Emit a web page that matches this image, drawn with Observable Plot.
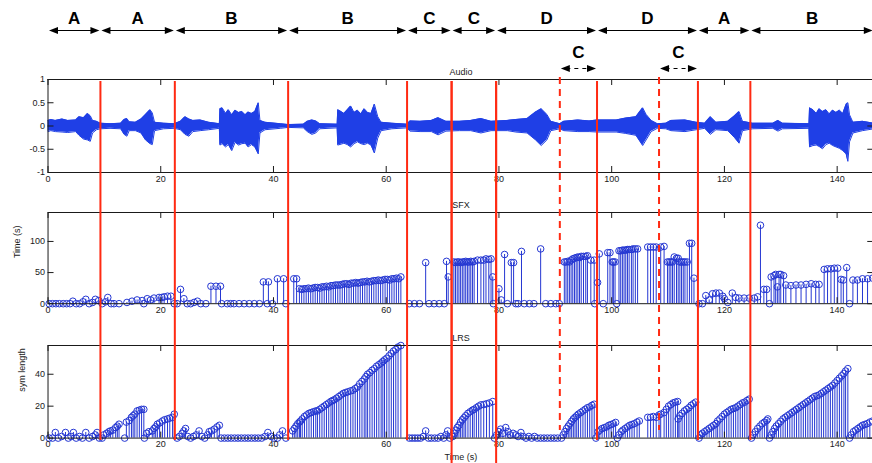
<!DOCTYPE html>
<html>
<head>
<meta charset="utf-8">
<script src="https://cdn.jsdelivr.net/npm/d3@7"></script>
<script src="https://cdn.jsdelivr.net/npm/@observablehq/plot@0.6"></script>
<style>
  html, body { margin: 0; padding: 0; background: white; }
  #chart { position: relative; width: 872px; height: 463px; overflow: hidden; }
  #chart svg { position: absolute; left: 0; }
</style>
</head>
<body>
<div id="chart"></div>
<script>
// ---------- data ----------
const xTicks = [0, 20, 40, 60, 80, 100, 120, 140];
const audioTicks = [-1, -0.5, 0, 0.5, 1];
const sfxTicks = [0, 50, 100];
const lrsTicks = [0, 20, 40];

const segLabels = ["A", "A", "B", "B", "C", "C", "D", "D", "A", "B"];
const segStart = [0, 9.3, 22.5, 42.6, 63.7, 71.6, 79.5, 97.4, 115.3, 124.6];
const segEnd = [9.3, 22.5, 42.6, 63.7, 71.6, 79.5, 97.4, 115.3, 124.6, 146.5];
const subLabels = ["C", "C"];
const subStart = [90.8, 108.4];
const subEnd = [97.4, 115.3];

const solidCuts = [9.3, 22.5, 42.6, 63.7, 71.6, 79.5, 97.4, 115.3, 124.6];
const extendedCuts = [71.6, 79.5];
const dashedCuts = [90.8, 108.4];

// audio envelope (time, upper, lower)
const audioT = [0,0.5,1.3,2.5,3.5,4.9,5.5,6.3,7.0,7.5,7.9,8.6,9.3,11,12.9,13.5,14.0,14.4,15.5,16.5,17.3,18.1,18.5,18.9,20.5,22.4,23.5,24.3,25,25.7,27,28.5,30.4,
  30.5,30.9,31.5,32.0,32.6,33.2,33.8,34.4,35.0,35.5,36.1,36.7,37.3,37.6,
  38.5,41.2,42.6,45.3,46,46.8,47.5,48.2,51.3,
  51.4,52.0,52.5,53.1,53.7,54.3,54.9,55.5,56.1,56.7,57.3,57.9,58.5,59.1,
  61,63.7,64.2,66,68,69.2,70.6,73,75,76.8,78.6,81.5,83,85,86.5,87.5,88.5,89.2,90.8,91.5,94,96,97.4,100.8,102.5,104.3,105.5,106.1,107,108.1,109.6,110.5,113,115,116.5,117.5,118.5,120.6,121.8,122.6,123.2,125,128.6,129.5,130.3,135,
  135.1,135.7,136.3,136.8,137.4,138.0,138.6,139.2,139.8,140.4,141.0,141.6,141.9,142.2,142.8,
  144.5,146.5];
const audioHi = [0.12,0.14,0.12,0.15,0.12,0.13,0.2,0.18,0.27,0.22,0.12,0.1,0.06,0.05,0.06,0.14,0.16,0.09,0.08,0.15,0.25,0.35,0.28,0.08,0.06,0.05,0.1,0.2,0.15,0.12,0.13,0.08,0.05,
  0.37,0.39,0.27,0.35,0.24,0.34,0.29,0.31,0.24,0.3,0.27,0.31,0.5,0.12,
  0.08,0.05,0.03,0.04,0.1,0.13,0.11,0.05,0.04,
  0.35,0.31,0.27,0.35,0.43,0.29,0.34,0.26,0.37,0.29,0.27,0.47,0.2,0.08,
  0.06,0.04,0.11,0.1,0.12,0.18,0.1,0.1,0.12,0.16,0.1,0.12,0.14,0.16,0.3,0.37,0.25,0.1,0.05,0.1,0.13,0.11,0.13,0.13,0.17,0.2,0.39,0.25,0.12,0.05,0.06,0.12,0.13,0.08,0.06,0.2,0.08,0.1,0.22,0.31,0.1,0.06,0.06,0.12,0.06,0.05,
  0.39,0.35,0.27,0.37,0.31,0.35,0.26,0.34,0.29,0.34,0.27,0.47,0.5,0.24,0.08,
  0.1,0.06];
const audioLo = [-0.12,-0.1,-0.12,-0.13,-0.14,-0.12,-0.2,-0.28,-0.3,-0.33,-0.15,-0.08,-0.06,-0.05,-0.06,-0.18,-0.22,-0.1,-0.1,-0.15,-0.3,-0.38,-0.4,-0.1,-0.06,-0.05,-0.08,-0.18,-0.22,-0.12,-0.1,-0.08,-0.05,
  -0.41,-0.38,-0.45,-0.4,-0.53,-0.35,-0.41,-0.38,-0.37,-0.45,-0.4,-0.45,-0.6,-0.15,
  -0.08,-0.05,-0.03,-0.04,-0.12,-0.18,-0.15,-0.06,-0.04,
  -0.41,-0.39,-0.37,-0.4,-0.45,-0.38,-0.34,-0.38,-0.4,-0.37,-0.41,-0.58,-0.26,-0.1,
  -0.06,-0.04,-0.11,-0.12,-0.12,-0.19,-0.11,-0.1,-0.1,-0.15,-0.1,-0.1,-0.13,-0.15,-0.3,-0.42,-0.3,-0.1,-0.06,-0.1,-0.12,-0.12,-0.13,-0.13,-0.16,-0.2,-0.42,-0.3,-0.12,-0.05,-0.06,-0.1,-0.12,-0.08,-0.05,-0.18,-0.08,-0.1,-0.25,-0.37,-0.1,-0.06,-0.05,-0.11,-0.06,-0.05,
  -0.45,-0.42,-0.41,-0.44,-0.49,-0.4,-0.37,-0.42,-0.45,-0.48,-0.53,-0.6,-0.76,-0.34,-0.15,
  -0.1,-0.06];

// SFX stems (time, value in s)
const sfxStems = [
[0.2,0],[0.8,0],[1.4,0],[2.0,0],[2.7,0],[3.3,0],[3.9,0],[4.4,4],[5.0,0],[5.6,0],[6.2,3],[6.7,7],[7.3,0],[7.9,2],[8.4,7],[9.0,5],
[9.6,0],[10.2,3],[10.6,10],[11.2,0],[11.7,0],[12.6,0],[14.0,2],[14.9,4],[15.8,6],[16.7,5],[17.0,0],[17.6,8],[18.2,6],[18.8,9],[19.7,10],[20.2,10],[20.6,11],[21.2,12],[21.8,12],
[22.4,0],[22.9,0],[23.5,23],[24.1,8],[24.7,0],[25.3,0],[25.9,2],[26.5,4],[27.1,0],[28.0,0],[28.9,28],[29.8,28],[30.6,28],[30.8,0],[31.8,0],[32.4,0],[33.0,0],[33.9,0],[34.8,0],[35.7,0],[36.6,0],[37.5,0],[38.2,35],[38.9,0],[39.1,35],[39.8,0],[40.7,40],[41.8,40],[42.2,0],
[43.6,40],[44.1,40],[44.6,24],[45.0,23],[45.4,24],[45.8,24],[46.2,25],[46.6,24],[47.0,25],[47.4,26],[47.8,26],[48.2,25],[48.6,27],[49.0,27],[49.4,28],[49.8,27],[50.2,29],[50.6,29],[51.0,30],[51.4,30],[51.8,30],[52.2,31],[52.6,32],[53.0,32],[53.4,31],[53.8,33],[54.2,33],[54.6,34],[55.0,33],[55.4,34],[55.8,35],[56.2,35],[56.6,36],[57.0,35],[57.4,36],[57.8,37],[58.2,37],[58.6,38],[59.0,37],[59.4,38],[59.8,39],[60.2,39],[60.6,38],[61.0,40],[61.4,40],[61.8,41],[62.2,40],[62.6,43],
[64.1,0],[65.0,0],[65.9,0],[67.0,66],[67.6,0],[68.5,0],[69.4,0],[70.3,0],[70.7,68],[71.0,43],
[72.0,67],[72.3,66],[72.6,67],[72.9,67],[73.2,66],[73.5,67],[73.8,67],[74.1,68],[74.4,67],[74.7,67],[75.0,68],[75.3,67],[75.6,68],[76.2,70],[76.8,70],[77.3,70],[77.7,72],[78.2,71],[78.6,72],[78.9,43],[79.0,0],
[80.0,24],[80.4,6],[81.0,79],[81.5,0],[82.2,66],[82.6,66],[83.0,0],[83.4,0],[84.0,84],[84.5,0],[85.4,0],[86.2,0],[87.4,88],[88.3,0],[89.2,0],[90.1,0],[90.7,0],
[91.6,67],[91.9,67],[92.2,68],[92.5,67],[92.8,70],[93.1,72],[93.4,73],[93.7,74],[94.0,75],[94.3,74],[94.6,76],[95.0,76],[95.4,76],[95.7,77],[96.3,70],[96.9,70],[97.0,0],
[97.5,34],[97.8,80],[98.5,0],[99.3,82],[99.7,82],[100.1,67],[100.3,67],[100.6,67],[100.9,0],[101.3,85],[101.6,85],[101.9,86],[102.2,86],[102.5,86],[102.8,87],[103.1,87],[103.5,87],[103.8,88],[104.2,88],[104.6,88],
[106.4,91],[106.9,91],[107.4,91],[107.9,91],[108.7,91],[109.3,92],[109.9,67],[110.2,67],[110.5,67],[110.8,67],[111.1,75],[111.5,73],[111.8,73],[112.1,67],[112.4,67],[112.7,67],[113.0,67],[113.4,67],[113.8,97],[114.2,97],[114.6,41],
[115.5,0],[116.1,0],[116.7,13],[117.3,6],[117.9,16],[118.5,17],[119.1,17],[119.7,12],[120.0,8],[120.6,2],[121.4,17],[122.0,10],[122.6,9],[123.5,9],[124.4,9],
[125.3,9],[125.9,11],[126.4,126],[127.0,23],[127.5,23],[128.0,0],[128.3,43],[128.8,45],[129.1,47],[129.4,27],[129.7,47],[130.0,47],[130.5,45],[130.9,30],[131.8,29],[132.7,30],[133.6,30],[134.5,31],[135.4,32],[136.2,31],[136.8,31],[137.7,55],[138.3,56],[138.9,56],[139.5,57],[140.1,57],[140.7,39],[141.1,38],[141.7,58],[142.2,0],[142.8,38],[143.6,38],[144.5,40],[145.4,40],[146.3,41]
];

// LRS stems (time, symbol length)
const lrsStems = [
[0.2,0],[0.8,0],[1.3,3.5],[1.8,0],[2.4,1],[3.1,3.5],[3.6,0],[4.1,1],[4.5,3.5],[5.0,0],[5.6,1],[6.1,0],[6.7,3.5],[7.3,0],[7.9,1],[8.4,2],[8.7,3.5],[9.1,0],
[9.6,0],[9.9,2],[10.4,3],[10.8,4],[11.1,4.5],[11.5,5],[12.0,6.6],[12.3,7.5],[12.6,8.7],[13.6,0],[13.9,10],[14.4,11],[14.8,13],[15.1,14],[15.4,15],[15.8,17],[16.2,17.5],[16.6,18],[17.0,18],
[17.1,0],[17.5,3],[17.9,4],[18.5,4.5],[18.8,6],[19.1,7],[19.4,8.7],[19.8,9.5],[20.3,10.7],[20.7,11.5],[21.2,12],[21.6,12.5],[22.1,13],[22.4,15],
[22.9,0],[23.3,1],[23.8,3],[24.1,4.5],[24.4,6],[24.8,1],[25.3,0],[25.8,1],[26.3,2],[26.8,4.5],[27.3,1],[27.8,0],[28.3,2],[28.6,4],[29.0,4.5],[29.5,5.6],[30.0,7],[30.4,8],[30.7,0],
[31.3,0],[31.9,0],[32.5,0],[33.1,0],[33.7,0],[34.3,0],[34.9,0],[35.5,0],[36.1,0],[36.7,0],[37.3,0],[37.9,0],[38.5,1],[39.0,3.5],[39.6,1],[40.1,0],[40.7,0],[41.1,2],[41.6,4.5],[42.2,0],
[43.4,4.5],[43.7,6],[44.0,7.5],[44.3,9],[44.6,10],[44.8,10.7],[45.1,12],[45.5,13.5],[45.9,14.5],[46.3,15.5],[46.7,16],[47.1,16.5],[47.5,17],[47.8,17],[48.2,18],[48.6,19],[49.0,20],[49.4,21],[49.8,22],[50.2,23],[50.5,23.5],[50.8,24],[51.2,25],[51.6,26],[52.0,27],[52.4,28],[52.8,28.5],[53.2,29],[53.7,29.6],[54.1,30],[54.5,31],[54.9,32],[55.3,34],[55.7,35.5],[56.1,37],[56.4,38.5],[56.7,40],[57.1,41],[57.5,42.5],[57.9,43.5],[58.3,45],[58.7,46],[59.1,47],[59.4,48],[59.7,49],[60.1,50],[60.5,51.5],[60.9,53],[61.3,54.5],[61.7,55.5],[62.1,57],[62.6,58],
[64.1,0],[64.6,0],[65.1,0],[65.6,0],[66.1,0],[66.6,1],[67.0,4.5],[67.5,0],[68.0,0],[68.6,0],[69.2,0],[69.7,1],[70.2,0],[70.6,2],[70.9,4.5],[71.3,0],
[71.8,1],[72.1,3],[72.4,5],[72.6,6.6],[72.9,8],[73.2,10],[73.5,11.5],[73.8,12.7],[74.1,14],[74.5,15.5],[74.9,16.5],[75.3,17.5],[75.6,18],[76.0,19],[76.4,20],[76.8,20.8],[77.3,21],[77.8,21.5],[78.3,22],[78.9,22.9],
[79.2,0],[79.6,2],[80.0,4],[80.3,5.6],[80.7,3],[81.2,6.6],[81.6,4],[82.0,2],[82.5,3],[83.0,2],[83.4,1],[83.9,3.5],[84.3,1],[84.8,0],[85.3,1],[85.8,0],[86.3,1],[86.8,0],[87.4,0],[88.0,0],[88.6,0],[89.2,0],[89.8,0],[90.4,0],
[91.1,0],[91.4,2],[91.7,4],[92.0,6],[92.3,7.5],[92.6,9],[92.9,10.5],[93.2,12],[93.5,13],[93.8,14],[94.1,15],[94.5,16],[94.9,17],[95.3,18],[95.7,19],[96.1,19.5],[96.5,20.5],[96.9,21.2],
[97.2,0],[97.6,4],[97.9,5],[98.3,6],[98.7,6.5],[99.1,7],[99.5,8],[99.9,8.5],[100.3,9],[100.7,9.8],
[101.0,0],[101.3,2],[101.7,4],[102.0,5],[102.4,6],[102.8,7],[103.2,8],[103.6,8.5],[104.0,9],[104.5,10],[104.9,10.7],
[106.4,13],[106.9,13],[107.4,13.5],[107.9,13],[108.4,14.5],[108.7,15],
[109.3,16],[109.7,18],[110.1,20],[110.5,21],[110.9,22],[111.3,22.5],[111.7,22.9],
[111.8,12],[112.1,14],[112.5,15.5],[112.9,17],[113.3,18],[113.7,19],[114.1,20.5],[114.5,21.5],[114.9,22.5],
[115.5,0],[115.8,2],[116.1,3],[116.5,4],[116.9,5],[117.3,6],[117.7,7],[118.1,8],[118.5,9],[118.8,10.7],
[119.2,12],[119.6,13.5],[120.0,15],[120.4,16],[120.8,17],[121.2,18],[121.6,18.5],[122.0,19],[122.4,20],[122.8,21],[123.2,22],[123.6,22.5],[124.0,23.5],[124.4,24.4],
[124.8,0],[125.1,2],[125.5,4],[125.9,6],[126.3,7.5],[126.7,9],[127.1,10],[127.5,11],[127.7,12],
[128.0,0],[128.3,2],[128.6,4],[128.9,6],[129.2,7.5],[129.6,9],[130.0,10.5],[130.4,12],[130.8,13],[131.2,14],[131.6,15],[132.0,16],[132.4,17],[132.8,18],[133.2,19],[133.6,20],[134.0,21],[134.4,22],[134.8,23],[135.2,24],[135.6,25],[136.0,26],[136.4,26.5],[136.8,27],[137.2,28],[137.6,29],[138.0,30],[138.4,31],[138.8,32],[139.2,33],[139.6,34.5],[140.0,36],[140.4,37.5],[140.8,39],[141.2,40.5],[141.5,42],[141.9,43.5],
[142.2,0],[142.5,2],[142.9,4],[143.3,5],[143.7,6],[144.1,7],[144.5,8],[144.9,8.5],[145.3,9],[145.8,10],[146.3,10.7]
];

// ---------- layout / style ----------
const W = 872;
const ML = 47.5, MR = -1.3;
const X_DOMAIN = [0, 146.5];
const X_RANGE = [ML, W - MR];
const FRAME_W = W - MR - ML;
const BLUE = "#1f3fe6";
const STEM = "#2436d2";
const RED = "#ff2a12";
const INK = "#1a1a1a";
const FONT = "'Liberation Sans', Arial, Helvetica, sans-serif";
const chart = document.getElementById("chart");

function place(svg, top) {
  svg.style.top = top + "px";
  chart.appendChild(svg);
}

function panel({frameTop, frameBottom, yDomain, yTicks, title, yLabel, yLabelOffset, xLabel, marks}) {
  const mt = 22, mb = xLabel ? 28 : 20;
  const frameH = frameBottom - frameTop;
  const svg = Plot.plot({
    width: W,
    height: mt + frameH + mb,
    marginTop: mt, marginBottom: mb, marginLeft: ML, marginRight: MR,
    style: {fontFamily: FONT, fontSize: "9px", color: INK, background: "transparent", overflow: "visible"},
    x: {domain: X_DOMAIN, range: X_RANGE},
    y: {domain: yDomain},
    marks: [
      ...marks,
      Plot.frame({stroke: INK, strokeWidth: 1}),
      Plot.ruleX(xTicks, {x: d => d, insetTop: frameH - 6, stroke: INK}),
      Plot.ruleX(xTicks, {x: d => d, insetBottom: frameH - 6, stroke: INK}),
      Plot.ruleY(yTicks, {y: d => d, insetRight: FRAME_W - 6, stroke: INK}),
      Plot.ruleY(yTicks, {y: d => d, insetLeft: FRAME_W - 6, stroke: INK}),
      Plot.axisX({ticks: xTicks, tickSize: 0, tickPadding: 3, label: null, tickFormat: d => String(d)}),
      Plot.axisY({ticks: yTicks, tickSize: 0, tickPadding: 3, label: null, tickFormat: d => String(d)}),
      Plot.text([title], {text: d => d, frameAnchor: "top", dy: -11, fontSize: 9}),
      yLabel ? Plot.text([yLabel], {text: d => d, frameAnchor: "left", rotate: -90, dx: -yLabelOffset, fontSize: 9}) : null,
      xLabel ? Plot.text([xLabel], {text: d => d, frameAnchor: "bottom", dy: 22, fontSize: 9}) : null
    ]
  });
  place(svg, frameTop - mt);
}

function stems(data) {
  return [
    Plot.ruleX(data, {x: d => d[0], y1: 0, y2: d => d[1], stroke: STEM, strokeWidth: 1}),
    Plot.dot(data, {x: d => d[0], y: d => d[1], r: 3.3, stroke: STEM, fill: "none", strokeWidth: 1})
  ];
}

// ---------- Audio ----------
const audio = audioT.map((t, i) => ({t, hi: audioHi[i], lo: audioLo[i]}));
panel({
  frameTop: 79.3, frameBottom: 172.3,
  yDomain: [-1, 1], yTicks: audioTicks, title: "Audio",
  marks: [
    Plot.areaY(audio, {x: "t", y1: "lo", y2: "hi", fill: BLUE}),
    Plot.line(audio, {x: "t", y: "hi", stroke: BLUE, strokeWidth: 1}),
    Plot.line(audio, {x: "t", y: "lo", stroke: BLUE, strokeWidth: 1})
  ]
});

// ---------- SFX ----------
panel({
  frameTop: 212, frameBottom: 303.2,
  yDomain: [0, 146.5], yTicks: sfxTicks, title: "SFX",
  yLabel: "Time (s)", yLabelOffset: 31,
  marks: stems(sfxStems)
});

// ---------- LRS ----------
panel({
  frameTop: 344.7, frameBottom: 437.3,
  yDomain: [0, 58], yTicks: lrsTicks, title: "LRS",
  yLabel: "sym length", yLabelOffset: 26, xLabel: "Time (s)",
  marks: stems(lrsStems)
});

// ---------- annotations (top arrows) ----------
const mainSegs = segLabels.map((label, i) => ({label, x1: segStart[i], x2: segEnd[i], row: "main"}));
const subSegs = subLabels.map((label, i) => ({label, x1: subStart[i], x2: subEnd[i], row: "sub"}));
const allSegs = mainSegs.concat(subSegs);
const headRight = {draw(ctx) { ctx.moveTo(0, 0); ctx.lineTo(-9, -3.5); ctx.lineTo(-9, 3.5); ctx.closePath(); }};
const headLeft = {draw(ctx) { ctx.moveTo(0, 0); ctx.lineTo(9, -3.5); ctx.lineTo(9, 3.5); ctx.closePath(); }};

const ann = Plot.plot({
  width: W, height: 80,
  marginTop: 0, marginBottom: 0, marginLeft: ML, marginRight: MR,
  style: {fontFamily: FONT, background: "transparent", overflow: "visible"},
  x: {domain: X_DOMAIN, range: X_RANGE, axis: null},
  y: {type: "point", padding: 0, domain: ["main", "sub"], range: [30, 68], axis: null},
  marks: [
    Plot.ruleY(mainSegs, {x1: "x1", x2: "x2", y: "row", stroke: "#000", strokeWidth: 1.2, insetLeft: 5, insetRight: 5}),
    Plot.ruleY(subSegs, {x1: "x1", x2: "x2", y: "row", stroke: "#000", strokeWidth: 1.2, strokeDasharray: "4,4", insetLeft: 7, insetRight: 7}),
    Plot.dot(allSegs, {x: "x2", y: "row", symbol: headRight, r: 4, fill: "#000", stroke: "none", dx: -1}),
    Plot.dot(allSegs, {x: "x1", y: "row", symbol: headLeft, r: 4, fill: "#000", stroke: "none", dx: 1}),
    Plot.text(mainSegs, {x: d => (d.x1 + d.x2) / 2, y: "row", text: "label", dy: -12, fontSize: 17, fontWeight: "bold", fill: "#000"}),
    Plot.text(subSegs, {x: d => (d.x1 + d.x2) / 2, y: "row", text: "label", dy: -16, fontSize: 17, fontWeight: "bold", fill: "#000"})
  ]
});
place(ann, 0);

// ---------- red segment boundaries (overlay) ----------
const overlay = Plot.plot({
  width: W, height: 463,
  marginTop: 81, marginBottom: 23, marginLeft: ML, marginRight: MR,
  style: {background: "transparent", overflow: "visible"},
  x: {domain: X_DOMAIN, range: X_RANGE, axis: null},
  marks: [
    Plot.ruleX(solidCuts, {x: d => d, stroke: RED, strokeWidth: 2}),
    Plot.ruleX(extendedCuts, {x: d => d, stroke: RED, strokeWidth: 2, insetBottom: -23}),
    Plot.ruleX(dashedCuts, {x: d => d, stroke: RED, strokeWidth: 2, strokeDasharray: "7,5", insetTop: -4, insetBottom: 10})
  ]
});
place(overlay, 0);
</script>
</body>
</html>
